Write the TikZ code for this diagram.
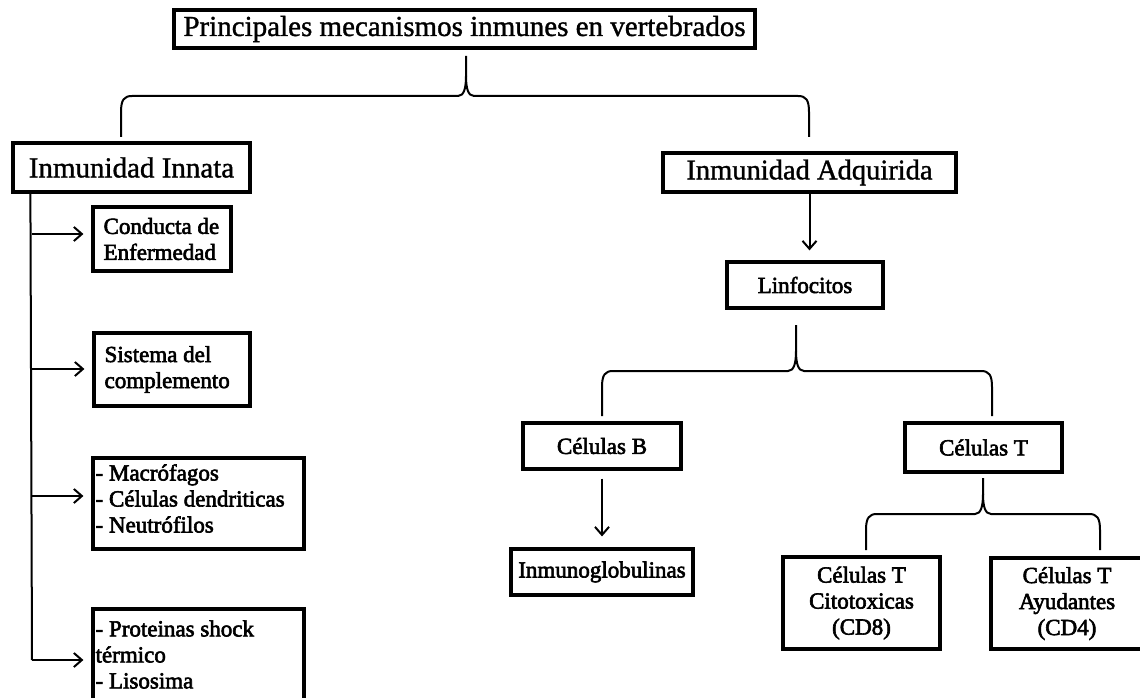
\documentclass[tikz,border=0pt]{standalone}
\usepackage{fontspec}
\setmainfont{Liberation Serif}
\newfontfamily\labelfont{Liberation Serif}[FakeBold=2.6]
\newfontfamily\headfont{Liberation Serif}[FakeBold=1.2]
\usetikzlibrary{arrows.meta,calc}

% Curly brace opening downward: #1 x of the cusp, #2 y of the cusp tip,
% #3 y of the bar, #4/#5 x of the left/right arms, #6 y of the arm ends.
\newcommand\drawbrace[6]{%
  \draw[conn] (#4,#6) -- (#4,#3+16) .. controls (#4,#3+4) and (#4+3,#3) .. (#4+11,#3)
    -- (#1-8,#3) .. controls (#1-2,#3) and (#1,#3-8) .. (#1,#3-20) -- (#1,#2);
  \draw[conn] (#5,#6) -- (#5,#3+16) .. controls (#5,#3+4) and (#5-3,#3) .. (#5-11,#3)
    -- (#1+8,#3) .. controls (#1+2,#3) and (#1,#3-8) .. (#1,#3-20);
}

\begin{document}
\begin{tikzpicture}[x=1pt,y=-1pt,
  box/.style={draw, line width=3.2pt, inner sep=0pt, align=center},
  conn/.style={line width=2pt},
  arr/.style={line width=2pt, -{Straight Barb[length=8pt,width=14pt]}},
  big/.style={font=\headfont\fontsize{29}{33}\selectfont},
  mid/.style={font=\headfont\fontsize{28.5}{32}\selectfont},
  small/.style={font=\labelfont\fontsize{23}{26}\selectfont},
  txt/.style={small, anchor=west, align=left, inner sep=0pt}]
\useasboundingbox (0,0) rectangle (1140,698);
\fill[white] (0,0) rectangle (1140,698);

% Top level
\node[box,big,minimum width=581pt,minimum height=38pt] (title) at (464.5,29)
  {Principales mecanismos inmunes en vertebrados};
\node[box,big,minimum width=237pt,minimum height=49pt] (innata) at (131.5,167.5)
  {Inmunidad Innata};
\node[box,mid,minimum width=293pt,minimum height=39pt] (adq) at (809.5,172.5)
  {Inmunidad Adquirida};
\drawbrace{466}{56}{96}{121}{809}{137}

% Innate branch
\node[box,minimum width=138pt,minimum height=64pt] (cond) at (162,239) {};
\node[txt] (condtxt) at ($(cond.west)+(12,0)$) {Conducta de\\Enfermedad};
\node[box,minimum width=156pt,minimum height=73pt] (sist) at (172,369.5) {};
\node[txt] (sisttxt) at ($(sist.west)+(12,0)$) {Sistema del\\complemento};
\node[box,minimum width=211pt,minimum height=91pt] (macro) at (198.5,503.5) {};
\node[txt] (macrotxt) at ($(macro.west)+(4,-5)$)
  {- Macrófagos\\- Células dendriticas\\- Neutrófilos};
\node[box,minimum width=211pt,minimum height=91pt] (prot) at (198.5,654.5) {};
\node[txt] (prottxt) at ($(prot.west)+(4,0)$)
  {- Proteinas shock\\térmico\\- Lisosima};

\coordinate (trunk) at ($(innata.south west)+(19,0)$);
\coordinate (a1) at (32,234);
\coordinate (a2) at (32,369);
\coordinate (a3) at (32,496);
\coordinate (tbot) at (32,660);
\draw[conn] (trunk) -- (tbot);
\draw[arr] (a1) -- ($(cond.west |- a1)+(-8,0)$);
\draw[arr] (a2) -- ($(sist.west |- a2)+(-8,0)$);
\draw[arr] (a3) -- ($(macro.west |- a3)+(-8,0)$);
\draw[arr] (tbot) -- ($(prot.west |- tbot)+(-8,0)$);

% Acquired branch
\node[box,small,minimum width=156pt,minimum height=46pt] (linf) at (805,285) {Linfocitos};
\draw[arr] (adq.south) -- ($(linf.north -| adq.south)+(0,-10)$);
\drawbrace{796}{325}{371}{602}{992}{416}

\node[box,small,minimum width=158pt,minimum height=46pt] (cb) at (602,446) {Células B};
\node[box,small,minimum width=157pt,minimum height=49pt] (ct) at (983.5,447.5) {Células T};
\node[box,small,minimum width=182pt,minimum height=46pt] (inmg) at (602,572) {Inmunoglobulinas};
\draw[arr] ($(cb.south)+(0,8)$) -- ($(inmg.north)+(0,-11)$);

\drawbrace{983}{478}{514}{866}{1100}{550}
\node[box,small,minimum width=157pt,minimum height=92pt] (cd8) at (861.5,603)
  {Células T\\Citotoxicas\\(CD8)};
\node[box,small,minimum width=152pt,minimum height=91pt] (cd4) at (1067,603.5)
  {Células T\\Ayudantes\\(CD4)};
\end{tikzpicture}
\end{document}
